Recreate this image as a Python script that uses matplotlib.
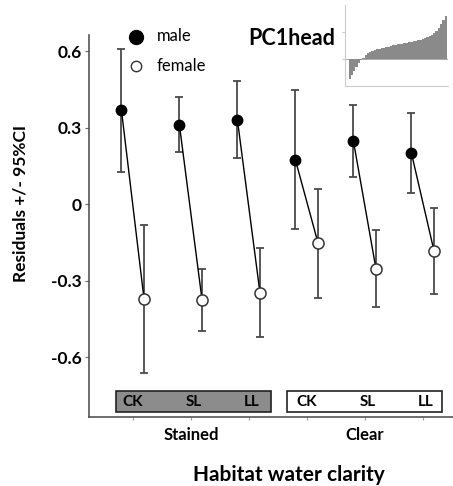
import matplotlib
matplotlib.use('Agg')
import matplotlib.pyplot as plt
from matplotlib.patches import Rectangle

plt.rcParams['font.family'] = ['Lato', 'DejaVu Sans']
plt.rcParams['font.weight'] = 'bold'

# data
sites = ['CK', 'SL', 'LL', 'CK', 'SL', 'LL']
groups = ['Stained', 'Clear']
male = [0.369, 0.31, 0.33, 0.173, 0.247, 0.20]
male_lo = [0.125, 0.204, 0.18, -0.098, 0.106, 0.043]
male_hi = [0.608, 0.42, 0.483, 0.447, 0.39, 0.357]
female = [-0.373, -0.376, -0.35, -0.153, -0.255, -0.184]
female_lo = [-0.663, -0.498, -0.52, -0.369, -0.404, -0.353]
female_hi = [-0.082, -0.255, -0.173, 0.059, -0.102, -0.016]
inset_vals = [-0.75, -0.6, -0.45, -0.3, -0.15, -0.05, 0.05, 0.15, 0.22, 0.26, 0.3,
              0.33, 0.36, 0.38, 0.4, 0.42, 0.44, 0.46, 0.48, 0.5, 0.52, 0.54, 0.55,
              0.57, 0.58, 0.6, 0.62, 0.63, 0.65, 0.67, 0.69, 0.71, 0.73, 0.76, 0.8,
              0.84, 0.88, 0.95, 1.05, 1.15, 1.3, 1.45, 1.6]

fig = plt.figure(figsize=(4.53, 4.86), dpi=100)
ax = fig.add_axes([0.1965, 0.142, 0.8035, 0.786])

xs = list(range(len(sites)))
xm = [x - 0.2 for x in xs]
xf = [x + 0.19 for x in xs]
ecol = '#4a4a4a'

for i in xs:
    ax.plot([xm[i], xf[i]], [male[i], female[i]], color='black', lw=1, zorder=2)

ax.errorbar(xm, male, yerr=[[m - l for m, l in zip(male, male_lo)], [h - m for m, h in zip(male, male_hi)]],
            fmt='none', ecolor=ecol, elinewidth=1.3, capsize=3, capthick=1.3, zorder=1)
ax.errorbar(xf, female, yerr=[[m - l for m, l in zip(female, female_lo)], [h - m for m, h in zip(female, female_hi)]],
            fmt='none', ecolor=ecol, elinewidth=1.3, capsize=3, capthick=1.3, zorder=1)
ax.plot(xm, male, 'o', color='black', ms=7.5, zorder=3)
ax.plot(xf, female, 'o', mfc='white', mec='#333333', mew=1.1, ms=8, zorder=3)

ax.set_xlim(-0.759, 5.517)
ax.set_ylim(-0.835, 0.663)
ax.set_yticks([0.6, 0.3, 0, -0.3, -0.6])
ax.set_yticklabels(['0.6', '0.3', '0', '-0.3', '-0.6'], fontsize=12.5, fontweight='bold')
ax.set_xticks(xs)
ax.set_xticklabels([])
ax.tick_params(axis='x', length=2, color='#999999')
ax.tick_params(axis='y', length=3, color='#666666', pad=2)
for s in ['top', 'right']:
    ax.spines[s].set_visible(False)
for s in ['left', 'bottom']:
    ax.spines[s].set_color('#555555')
    ax.spines[s].set_linewidth(1.2)

# habitat boxes
ax.add_patch(Rectangle((-0.293, -0.816), 2.672, 0.083, facecolor='#8c8c8c', edgecolor='#222222', lw=1.2, zorder=1))
ax.add_patch(Rectangle((2.655, -0.816), 2.673, 0.083, facecolor='white', edgecolor='#222222', lw=1.2, zorder=1))
for i, s in enumerate(sites):
    ax.text(xs[i] + (0.05 if i % 3 else 0), -0.775, s, ha='center', va='center', fontsize=11, fontweight='bold', zorder=2)

for j, g in enumerate(groups):
    ax.text(1 + 3 * j, -0.905, g, ha='center', va='center', fontsize=12, fontweight='bold', clip_on=False)

ax.set_xlabel('Habitat water clarity', fontsize=15, fontweight='bold')
ax.xaxis.set_label_coords(0.55, -0.125)
ax.set_ylabel('Residuals +/- 95%CI', fontsize=12.5, fontweight='bold')
ax.yaxis.set_label_coords(-0.165, 0.558)

# legend drawn by hand
ax.plot([0.128], [0.995], 'o', color='black', ms=10, transform=ax.transAxes, clip_on=False)
ax.plot([0.128], [0.92], 'o', mfc='white', mec='#333333', ms=7.5, transform=ax.transAxes, clip_on=False)
ax.text(0.186, 0.997, 'male', transform=ax.transAxes, va='center', fontsize=12, fontweight='normal')
ax.text(0.186, 0.92, 'female', transform=ax.transAxes, va='center', fontsize=12, fontweight='normal')
ax.text(0.437, 0.99, 'PC1head', transform=ax.transAxes, va='center', fontsize=15.5, fontweight='bold')

# inset
ins = fig.add_axes([0.762, 0.823, 0.227, 0.167])
ins.bar(range(len(inset_vals)), inset_vals, width=1.0, color='#8a8a8a', edgecolor='none')
ins.axhline(0, color='#8a8a8a', lw=0.5)
ins.set_xlim(-2, len(inset_vals))
ins.set_ylim(-1.0, 2.0)
ins.set_xticks([])
ins.set_yticks([0, 1])
ins.set_yticklabels([])
ins.tick_params(axis='y', length=2, color='#cccccc')
for s in ['top', 'right']:
    ins.spines[s].set_visible(False)
for s in ['left', 'bottom']:
    ins.spines[s].set_color('#cccccc')

fig.savefig('out.png', dpi=100)
